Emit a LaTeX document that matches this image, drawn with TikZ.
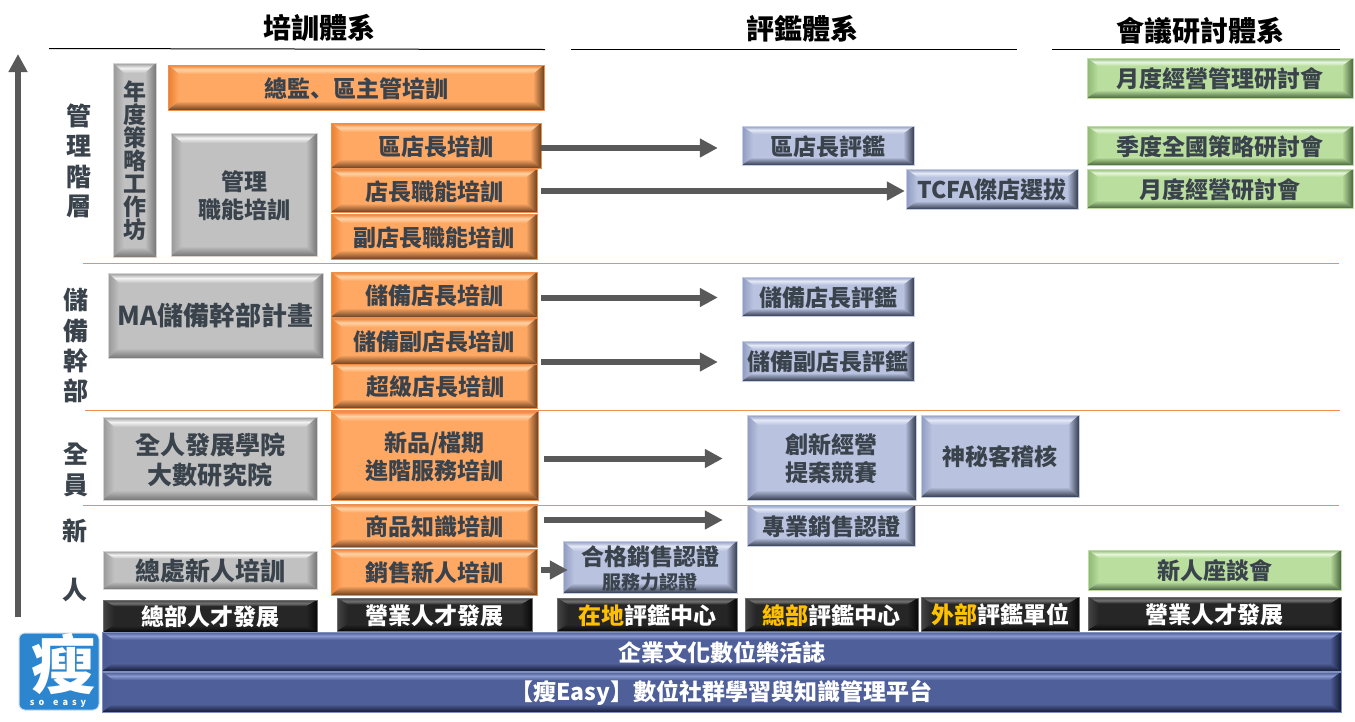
\documentclass[tikz,border=0pt]{standalone}
\usepackage{fontspec}
\setmainfont{Noto Sans CJK TC}
\newfontfamily\scfont{Noto Sans CJK SC}
\usetikzlibrary{arrows.meta}
\definecolor{orF}{HTML}{FFA864}\definecolor{orH}{HTML}{FFD2A4}\definecolor{orE}{HTML}{EC7E2E}\definecolor{orD}{HTML}{6E4220}\definecolor{orX}{HTML}{EC9050}
\definecolor{grF}{HTML}{C1C1C1}\definecolor{grH}{HTML}{F2F2F2}\definecolor{grE}{HTML}{989898}\definecolor{grD}{HTML}{767676}\definecolor{grX}{HTML}{D4D4D4}
\definecolor{blF}{HTML}{B9C3E0}\definecolor{blH}{HTML}{E4E9F6}\definecolor{blE}{HTML}{8E9AC0}\definecolor{blD}{HTML}{343C4E}\definecolor{blX}{HTML}{C4CDE6}
\definecolor{gnF}{HTML}{B9DE9E}\definecolor{gnH}{HTML}{E6F6DA}\definecolor{gnE}{HTML}{8EB872}\definecolor{gnD}{HTML}{4A6640}\definecolor{gnX}{HTML}{BEDCA8}
\definecolor{bkF}{HTML}{262626}\definecolor{bkH}{HTML}{707070}\definecolor{bkE}{HTML}{444444}\definecolor{bkD}{HTML}{080808}\definecolor{bkX}{HTML}{6C6C6C}
\definecolor{nvF}{HTML}{4F5F99}\definecolor{nvH}{HTML}{8A9AD0}\definecolor{nvE}{HTML}{4A5A92}\definecolor{nvD}{HTML}{161C38}\definecolor{nvX}{HTML}{8090BC}
\definecolor{inkc}{HTML}{3A434C}\definecolor{goldc}{HTML}{FFC000}\definecolor{arrowc}{HTML}{595959}
\definecolor{sepo}{HTML}{F09050}\definecolor{logob}{HTML}{2C86CF}\definecolor{logox}{HTML}{C8DCEC}
\newcommand\setf[2]{\bfseries\fontsize{#1}{#2}\selectfont\lineskiplimit=-60pt\relax}
\tikzset{
  boxtext/.style={align=center,inner sep=0pt,text=inkc,font=\setf{23}{28},yshift=-1pt},
  lighttext/.style={boxtext,text=white},
  ortext/.style={boxtext},grtext/.style={boxtext},bltext/.style={boxtext},gntext/.style={boxtext},
  bktext/.style={lighttext},nvtext/.style={lighttext},
  sidetext/.style={align=center,inner sep=0pt,text=inkc,font=\setf{25}{30}},
  titletext/.style={inner sep=0pt,text=black,font=\setf{28}{32}},
  flowarrow/.style={draw=arrowc,line width=6pt,-{Triangle[length=18pt,width=18pt]},shorten <=4pt},
  headrule/.style={draw=black,line width=1pt},
  seprule/.style={draw=sepo,line width=1pt},
}
% [node options] name x0 y0 x1 y1 palette text
\newcommand\bev[8][]{%
  \pgfmathsetmacro\bx{11}%
  \fill[#7F] (#3,#4) rectangle (#5,#6);
  \pgfmathsetmacro\by{min(10,0.2*(#6-#4))}%
  \shade[top color=#7E,bottom color=#7F,middle color=#7H] (#3,#4) -- (#5,#4) -- ({#5-\bx},{#4+\by}) -- ({#3+\bx},{#4+\by}) -- cycle;
  \shade[left color=#7E,right color=#7F] (#3,#4) -- ({#3+\bx},{#4+\by}) -- ({#3+\bx},{#6-\by}) -- (#3,#6) -- cycle;
  \shade[left color=#7F,right color=#7D] (#5,#4) -- ({#5-\bx},{#4+\by}) -- ({#5-\bx},{#6-\by}) -- (#5,#6) -- cycle;
  \shade[top color=#7F,bottom color=#7D] (#3,#6) -- ({#3+\bx},{#6-\by}) -- ({#5-\bx},{#6-\by}) -- (#5,#6) -- cycle;
  \draw[#7X,line width=1pt] (#3,#4) rectangle (#5,#6);
  \node[#7text,minimum width={(#5-#3)*1pt},minimum height={(#6-#4)*1pt},#1] (#2) at ({(#3+#5)/2},{(#4+#6)/2}) {#8};
}
\begin{document}
\begin{tikzpicture}[x=1pt,y=-1pt]
\useasboundingbox (0,0) rectangle (1355,721);
% headings
\node[titletext] (t1) at (319,28) {培訓體系};
\node[titletext] (t2) at (802,29) {評鑑體系};
\node[titletext] (t3) at (1200,31) {會議研討體系};
\coordinate (r1a) at (49,48.5);\coordinate (r1b) at (545,49.5);
\coordinate (r2a) at (571,49);\coordinate (r2b) at (1017,49);
\coordinate (r3a) at (1052,49);\coordinate (r3b) at (1340,49);
\draw[headrule] (r1a) -- (r1b);
\draw[headrule] (r2a) -- (r2b);
\draw[headrule] (r3a) -- (r3b);
% rising arrow
\coordinate (upa) at (18,617);\coordinate (upb) at (18,54);
\draw[draw=arrowc,line width=6pt,-{Triangle[length=18pt,width=18pt]}] (upa) -- (upb);
% side labels
\node[sidetext] (l1a) at (79,116) {管};\node[sidetext] (l1b) at (79,146) {理};
\node[sidetext] (l1c) at (79,177) {階};\node[sidetext] (l1d) at (79,206) {層};
\node[sidetext] (l2a) at (76,300) {儲};\node[sidetext] (l2b) at (76,331) {備};
\node[sidetext] (l2c) at (76,361) {幹};\node[sidetext] (l2d) at (76,391) {部};
\node[sidetext] (l3a) at (76,454) {全};\node[sidetext] (l3b) at (76,485) {員};
\node[sidetext] (l4a) at (75,531) {新};\node[sidetext] (l4b) at (75,590) {人};
% training
\bev[font=\setf{23}{23}]{wk}{113}{63}{156}{257}{gr}{年\\度\\策\\略\\工\\作\\坊}
\bev{dir}{168}{65}{544}{110}{or}{總監{\scfont 、}區主管培訓}
\bev{mgt}{171}{133}{317}{256}{gr}{管理\\職能培訓}
\bev[font=\setf{26}{30},yshift=1pt]{ma}{108}{273}{323}{358}{gr}{MA儲備幹部計畫}
\bev{tdis}{331}{123}{541}{168}{or}{區店長培訓}
\bev{tmgr}{331}{169}{537}{212}{or}{店長職能培訓}
\bev{tvice}{331}{214}{537}{259}{or}{副店長職能培訓}
\bev{sup}{333}{363}{537}{408}{or}{超級店長培訓}
\bev{rmgr}{331}{272}{537}{317}{or}{儲備店長培訓}
\bev{rvice}{331}{318}{537}{364}{or}{儲備副店長培訓}
\bev{svc}{331}{411}{538}{500}{or}{新品/檔期\\進階服務培訓}
\bev[font=\setf{25}{30}]{acad}{103}{417}{317}{500}{gr}{全人發展學院\\大數研究院}
\bev{prod}{331}{504}{537}{547}{or}{商品知識培訓}
\bev[font=\setf{25}{30}]{newhq}{103}{551}{317}{589}{gr}{總處新人培訓}
\bev{newsal}{331}{549}{537}{595}{or}{銷售新人培訓}
% evaluation
\bev{edis}{742}{126}{914}{165}{bl}{區店長評鑑}
\bev{tcfa}{906}{169}{1078}{209}{bl}{TCFA傑店選拔}
\bev{ermgr}{742}{277}{914}{316}{bl}{儲備店長評鑑}
\bev{ervice}{742}{341}{914}{381}{bl}{儲備副店長評鑑}
\bev{innov}{747}{415}{916}{500}{bl}{創新經營\\提案競賽}
\bev{myst}{921}{415}{1079}{497}{bl}{神秘客稽核}
\bev{cert}{747}{505}{915}{546}{bl}{專業銷售認證}
\bev[font=\setf{23}{25}]{qual}{563}{541}{737}{593}{bl}{合格銷售認證\\[-1pt]\fontsize{19}{21}\selectfont 服務力認證}
% meetings
\bev{m1}{1087}{58}{1353}{98}{gn}{月度經營管理研討會}
\bev{m2}{1087}{126}{1353}{165}{gn}{季度全國策略研討會}
\bev{m3}{1087}{169}{1353}{208}{gn}{月度經營研討會}
\bev{m4}{1088}{550}{1341}{590}{gn}{新人座談會}
% dark row
\bev{k1}{103}{600}{317}{632}{bk}{總部人才發展}
\bev{k2}{337}{598}{532}{631}{bk}{營業人才發展}
\bev{k3}{557}{598}{737}{631}{bk}{{\color{goldc}在地}評鑑中心}
\bev{k4}{745}{598}{918}{631}{bk}{{\color{goldc}總部}評鑑中心}
\bev{k5}{921}{597}{1079}{631}{bk}{{\color{goldc}外部}評鑑單位}
\bev{k6}{1088}{597}{1341}{630}{bk}{營業人才發展}
% platform
\bev{p1}{102}{632}{1341}{671}{nv}{企業文化數位樂活誌}
\bev{p2}{102}{672}{1341}{712}{nv}{【瘦Easy】數位社群學習與知識管理平台}
% logo
\fill[logob,draw=logox,line width=1pt,rounded corners=6pt] (19,633) rectangle (99,710);
\node[inner sep=0pt,text=white,font=\setf{64}{64}] (logo) at (63,664) {瘦};
\node[inner sep=0pt,text=white,font=\setf{9}{10}] (logot) at (58,704) {s\hspace{4pt}o\hspace{9pt}e\hspace{4pt}a\hspace{4pt}s\hspace{4pt}y};
% separators
\coordinate (s1a) at (83,263.5);\coordinate (s1b) at (1339,263.5);
\coordinate (s2a) at (85,410.5);\coordinate (s2b) at (1340,410.5);
\coordinate (s3a) at (83,505.5);\coordinate (s3b) at (1339,505.5);
\draw[seprule] (s1a) -- (s1b);
\draw[seprule] (s2a) -- (s2b);
\draw[seprule] (s3a) -- (s3b);
% flows
\draw[flowarrow,shorten >=24pt,shorten <=0pt,transform canvas={yshift=-1.5pt}] (tdis.east) -- (edis.west);
\draw[flowarrow,shorten >=1pt,transform canvas={yshift=-1pt}] (tmgr.east |- tcfa.west) -- (tcfa.west);
\draw[flowarrow,shorten >=24pt] (rmgr.east |- ermgr.west) -- (ermgr.west);
\draw[flowarrow,shorten >=24pt] (rvice.east |- ervice.west) -- (ervice.west);
\draw[flowarrow,shorten >=24pt,shorten <=6pt] (svc.east |- innov.west) -- (innov.west);
\draw[flowarrow,shorten >=24pt,shorten <=7pt,transform canvas={yshift=6.5pt}] (prod.east |- cert.west) -- (cert.west);
\draw[flowarrow,shorten >=-5pt,shorten <=4pt,transform canvas={yshift=-2pt}] (newsal.east |- qual.west) -- (qual.west);
\end{tikzpicture}
\end{document}
